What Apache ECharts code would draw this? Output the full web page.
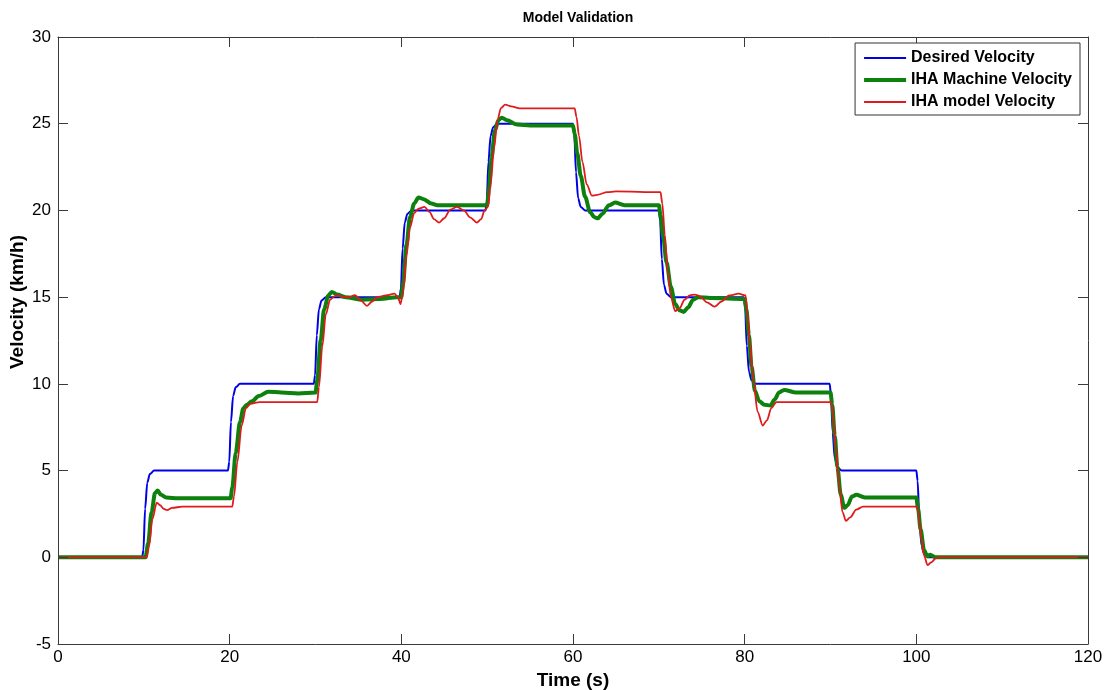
<!DOCTYPE html>
<html>
<head>
<meta charset="utf-8">
<script src="https://cdn.jsdelivr.net/npm/echarts@6/dist/echarts.min.js"></script>
<style>
html,body{margin:0;padding:0;background:#fff;}
#chart{width:1104px;height:690px;}
</style>
</head>
<body>
<div id="chart"></div>
<script>
// ---- data (time in s, velocity in km/h) ----
var seriesNames = ['Desired Velocity', 'IHA Machine Velocity', 'IHA model Velocity'];

var desiredVelocity = [
  [0,0],[9.8,0],[9.95,0.4],[10.15,2.8],[10.4,4.3],[10.7,4.8],[11.2,5.0],
  [19.8,5.0],[19.95,5.5],[20.15,7.8],[20.4,9.3],[20.7,9.8],[21.2,10.0],
  [29.8,10.0],[29.95,10.5],[30.15,12.8],[30.4,14.3],[30.7,14.8],[31.2,15.0],
  [39.8,15.0],[39.95,15.5],[40.15,17.8],[40.4,19.3],[40.7,19.8],[41.2,20.0],
  [49.8,20.0],[49.95,20.5],[50.15,22.8],[50.4,24.3],[50.7,24.8],[51.2,25.0],
  [60.0,25.0],[60.15,24.4],[60.35,22.2],[60.6,20.7],[60.9,20.2],[61.4,20.0],
  [70.0,20.0],[70.15,19.4],[70.35,17.2],[70.6,15.7],[70.9,15.2],[71.4,15.0],
  [79.9,15.0],[80.05,14.4],[80.25,12.2],[80.5,10.7],[80.8,10.2],[81.3,10.0],
  [89.9,10.0],[90.05,9.4],[90.25,7.2],[90.5,5.7],[90.8,5.2],[91.3,5.0],
  [100.0,5.0],[100.15,4.4],[100.35,2.2],[100.6,0.7],[100.9,0.2],[101.4,0],[120,0]
];

var machineVelocity = [
  [0,0],[10.2,0],[10.5,0.8],[10.9,2.6],[11.3,3.7],[11.6,3.85],[12.0,3.6],[12.6,3.45],[14,3.4],[20.1,3.4],
  [20.3,4.0],[20.7,6.0],[21.2,7.8],[21.6,8.6],[22.0,8.8],[22.6,9.0],[23.4,9.3],[24.5,9.55],[26,9.5],[28,9.45],[30.0,9.5],
  [30.2,10.2],[30.6,12.5],[31.0,14.3],[31.5,15.1],[31.9,15.3],[32.5,15.15],[33.5,15.0],[35.5,14.85],[37.5,14.9],[39.5,15.0],[40.0,15.0],
  [40.2,15.8],[40.6,18.0],[41.0,19.6],[41.5,20.4],[42.0,20.75],[42.6,20.65],[43.5,20.4],[44.2,20.3],[50.0,20.3],
  [50.2,21.2],[50.5,23.0],[50.9,24.6],[51.3,25.2],[51.7,25.35],[52.3,25.2],[53.5,24.95],[55,24.9],[60.0,24.9],
  [60.2,24.4],[60.5,23.3],[60.9,22.0],[61.4,20.8],[62.0,19.9],[62.5,19.6],[62.9,19.55],[63.4,19.8],[64.2,20.3],[64.9,20.45],[66,20.3],[70.0,20.3],
  [70.2,19.7],[70.5,18.5],[70.9,17.0],[71.4,15.6],[71.9,14.6],[72.4,14.25],[72.9,14.15],[73.4,14.4],[74.0,14.85],[74.6,15.0],[76,14.95],[80.0,14.9],
  [80.2,14.3],[80.5,12.8],[80.8,11.0],[81.2,9.6],[81.7,9.0],[82.3,8.8],[83.0,8.75],[83.5,9.1],[84.0,9.5],[84.6,9.65],[86,9.5],[90.0,9.5],
  [90.2,8.8],[90.5,7.0],[90.8,5.2],[91.2,3.6],[91.6,2.85],[92.0,3.0],[92.5,3.5],[93.0,3.6],[94.0,3.45],[100.0,3.45],
  [100.2,2.8],[100.5,1.6],[100.9,0.4],[101.3,0.05],[101.6,0.15],[102.2,0.0],[120,0]
];

var modelVelocity = [
  [0,0],[10.3,0],[10.6,0.6],[11.0,2.2],[11.5,3.15],[11.9,3.0],[12.3,2.8],[12.7,2.72],[13.3,2.85],[14.5,2.92],[20.3,2.92],
  [20.5,3.5],[20.9,5.5],[21.4,7.6],[21.9,8.6],[22.4,8.85],[23.5,8.95],[30.2,8.95],
  [30.4,9.8],[30.8,12.2],[31.2,14.0],[31.7,14.85],[32.2,15.05],[32.7,15.1],[33.3,15.0],[33.9,15.0],[34.6,15.12],[35.3,14.8],[36.0,14.5],[36.6,14.75],[37.2,15.0],[38.2,15.1],[39.2,15.2],[39.6,15.0],[39.9,14.6],
  [40.2,15.3],[40.6,17.4],[41.0,19.0],[41.5,19.85],[42.0,20.1],[42.7,20.2],[43.3,19.9],[43.8,19.5],[44.4,19.3],[45.0,19.55],[45.7,20.05],[46.5,20.2],[47.3,20.0],[48.0,19.6],[48.8,19.3],[49.3,19.5],[49.7,20.0],[50.1,20.2],
  [50.4,21.5],[50.8,23.6],[51.2,25.2],[51.6,25.9],[52.1,26.1],[52.8,26.0],[53.8,25.88],[60.2,25.88],
  [60.4,25.4],[60.7,24.3],[61.1,22.8],[61.6,21.5],[62.2,20.85],[62.8,20.9],[64,21.05],[65,21.1],[70.2,21.05],
  [70.4,20.4],[70.7,18.6],[71.0,16.6],[71.4,15.0],[71.9,14.2],[72.4,14.35],[73.0,14.85],[73.6,15.1],[74.2,15.15],[74.8,15.05],[75.6,14.7],[76.5,14.45],[77.3,14.75],[78.2,15.1],[79.3,15.2],[80.1,15.1],
  [80.3,14.2],[80.6,12.4],[81.0,10.3],[81.5,8.4],[82.1,7.6],[82.6,7.9],[83.1,8.6],[83.7,8.95],[85,8.95],[90.1,8.95],
  [90.3,8.2],[90.6,6.4],[91.0,4.2],[91.4,2.6],[91.8,2.1],[92.3,2.3],[93.0,2.75],[93.8,2.92],[100.1,2.92],
  [100.3,2.3],[100.6,1.1],[100.9,0.1],[101.3,-0.45],[101.7,-0.3],[102.3,-0.05],[103,0],[120,0]
];

var xRange = [0, 120, 20];   // min, max, interval
var yRange = [-5, 30, 5];

// ---- chart ----
var FONT = '"Liberation Sans", Arial, Helvetica, sans-serif';
var AXIS_COLOR = '#3a3a3a';
var chart = echarts.init(document.getElementById('chart'), null, {renderer: 'canvas'});

function boxAxis(pos, isX, showLabel, name) {
  var r = isX ? xRange : yRange;
  var a = {
    type: 'value', position: pos, min: r[0], max: r[1], interval: r[2],
    splitLine: {show: false},
    axisLine: {show: true, onZero: false, lineStyle: {color: AXIS_COLOR, width: 1}},
    axisTick: {show: true, inside: true, length: 10, lineStyle: {color: AXIS_COLOR}},
    axisLabel: {show: showLabel, color: '#000', fontSize: 17, fontFamily: FONT, margin: isX ? 5 : 7},
    z: 10
  };
  if (name) {
    a.name = name;
    a.nameLocation = 'middle';
    a.nameGap = 22;
    a.nameTextStyle = {color: '#000', fontSize: 19, fontWeight: 'bold', fontFamily: FONT};
  }
  return a;
}

var colors = ['#0000e6', '#0d800d', '#e01a1a'];
var widths = [2, 4, 1.8];
// legend line icons (bounding box 42x14, band = line thickness)
var legendIcons = [
  'path://M0,0L0.01,0Z M0,6H42V8H0Z M0,14L0.01,14Z',
  'path://M0,0L0.01,0Z M0,5H42V9H0Z M0,14L0.01,14Z',
  'path://M0,0L0.01,0Z M0,6H42V8H0Z M0,14L0.01,14Z'
];
var datasets = [desiredVelocity, machineVelocity, modelVelocity];

chart.setOption({
  animation: false,
  backgroundColor: '#fff',
  title: {
    text: 'Model Validation', left: 573, top: 6, textAlign: 'center',
    textStyle: {fontSize: 14, fontWeight: 'bold', color: '#000', fontFamily: FONT}
  },
  grid: {left: 58, right: 16, top: 37, bottom: 46, containLabel: false, outerBoundsMode: 'none'},
  legend: {
    orient: 'vertical', right: 24, top: 43,
    data: seriesNames.map(function (n, i) { return {name: n, icon: legendIcons[i]}; }),
    itemWidth: 42, itemHeight: 14, itemGap: 6, itemTextGap: 4, symbolKeepAspect: false,
    padding: [7, 8, 5, 9],
    borderColor: '#333', borderWidth: 1, backgroundColor: '#fff',
    textStyle: {fontSize: 16, fontWeight: 'bold', color: '#000', fontFamily: FONT},
    z: 20
  },
  graphic: [{
    type: 'text', z: 30,
    x: 18, y: 302, rotation: Math.PI / 2,
    style: {
      text: 'Velocity (km/h)', fill: '#000', align: 'center', verticalAlign: 'middle',
      font: 'bold 19px ' + FONT
    }
  }],
  xAxis: [boxAxis('bottom', true, true, 'Time (s)'), boxAxis('top', true, false)],
  yAxis: [boxAxis('left', false, true), boxAxis('right', false, false)],
  series: seriesNames.map(function (n, i) {
    return {
      name: n, type: 'line', xAxisIndex: 0, yAxisIndex: 0,
      data: datasets[i], showSymbol: false, symbol: 'none',
      smooth: 0.3, smoothMonotone: 'x',
      color: colors[i],
      lineStyle: {color: colors[i], width: widths[i]},
      z: 2 + i
    };
  })
});
</script>
</body>
</html>
